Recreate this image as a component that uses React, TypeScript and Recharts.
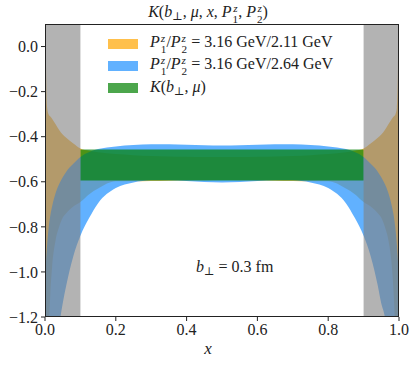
import React from 'react'
import { ComposedChart, Area, XAxis, YAxis } from 'recharts'

const FONT = '"Liberation Serif", "DejaVu Serif", serif'
const INK = '#222'

// sample positions along x, denser near the endpoints where the bands blow up
const xs = [
  0, 0.003, 0.006, 0.01, 0.015, 0.02, 0.03, 0.04, 0.05, 0.06, 0.08, 0.1, 0.125, 0.15, 0.2, 0.25, 0.3, 0.35, 0.4, 0.45, 0.5,
  0.55, 0.6, 0.65, 0.7, 0.75, 0.8, 0.85, 0.875, 0.9, 0.92, 0.94, 0.95, 0.96, 0.97, 0.98, 0.985, 0.99, 0.994, 0.997, 1,
]

// P1/P2 = 3.16 GeV / 2.11 GeV
const orangeHigh = [
  0.6, -0.1, -0.27, -0.3, -0.31, -0.32, -0.345, -0.37, -0.39, -0.405, -0.43, -0.452, -0.462, -0.469, -0.477, -0.482, -0.486, -0.488, -0.489, -0.49, -0.49,
  -0.49, -0.489, -0.488, -0.486, -0.482, -0.477, -0.469, -0.462, -0.452, -0.43, -0.405, -0.39, -0.37, -0.345, -0.32, -0.31, -0.3, -0.27, -0.1, 0.6,
]
const orangeLow = [
  -3.0, -2.0, -1.6, -1.3, -1.1, -0.98, -0.86, -0.8, -0.76, -0.74, -0.71, -0.69, -0.655, -0.63, -0.598, -0.598, -0.597, -0.595, -0.594, -0.593, -0.592,
  -0.593, -0.594, -0.595, -0.597, -0.598, -0.598, -0.63, -0.655, -0.69, -0.71, -0.74, -0.76, -0.8, -0.86, -0.98, -1.1, -1.3, -1.6, -2.0, -3.0,
]

// P1/P2 = 3.16 GeV / 2.64 GeV
const blueHigh = [
  -1.05, -0.95, -0.88, -0.81, -0.75, -0.71, -0.65, -0.61, -0.58, -0.555, -0.52, -0.49, -0.468, -0.455, -0.443, -0.437, -0.434, -0.434, -0.436, -0.438, -0.439,
  -0.438, -0.436, -0.434, -0.434, -0.437, -0.443, -0.455, -0.468, -0.49, -0.52, -0.555, -0.58, -0.61, -0.65, -0.71, -0.75, -0.81, -0.88, -0.95, -1.05,
]
const blueLow = [
  -3.5, -2.9, -2.5, -2.1, -1.8, -1.6, -1.38, -1.24, -1.14, -1.06, -0.93, -0.84, -0.76, -0.695, -0.628, -0.603, -0.593, -0.593, -0.597, -0.601, -0.603,
  -0.601, -0.597, -0.593, -0.593, -0.603, -0.628, -0.695, -0.76, -0.84, -0.93, -1.06, -1.14, -1.2, -1.33, -1.55, -1.75, -2.05, -2.45, -2.85, -3.4,
]

// K(b, mu) band, plotted over the trusted x window only
const kBand = [-0.594, -0.457]
const kRange = [0.1, 0.9]

// grey cut regions at the endpoints
const cutLeft = [0, 0.1]
const cutRight = [0.9, 1]

const xTicks = [0, 0.2, 0.4, 0.6, 0.8, 1]
const yTicks = [0, -0.2, -0.4, -0.6, -0.8, -1, -1.2]
const Y_DOMAIN = [-1.2, 0.1]

const rows = xs.map((x, i) => ({
  x,
  orange: [orangeLow[i], orangeHigh[i]],
  blue: [blueLow[i], blueHigh[i]],
  k: x >= kRange[0] && x <= kRange[1] ? kBand : null,
  cutL: x >= cutLeft[0] && x <= cutLeft[1] ? Y_DOMAIN : null,
  cutR: x >= cutRight[0] && x <= cutRight[1] ? Y_DOMAIN : null,
}))

const fmtY = (v: number) => (v < 0 ? '\u2212' : '') + Math.abs(v).toFixed(1)

function SupSub({ sup, sub }: { sup: string; sub: string }) {
  return (
    <span style={{ display: 'inline-block', verticalAlign: '-0.5em', lineHeight: 0.95, fontSize: '0.7em', marginLeft: 1 }}>
      <span style={{ display: 'block', fontStyle: 'italic' }}>{sup}</span>
      <span style={{ display: 'block' }}>{sub}</span>
    </span>
  )
}

const Pz = ({ n }: { n: string }) => (
  <>
    <i>P</i>
    <SupSub sup="z" sub={n} />
  </>
)

const Bperp = () => (
  <>
    <i>b</i>
    <span style={{ fontSize: '0.7em', verticalAlign: '-0.3em' }}>⊥</span>
  </>
)

const legendItems = [
  { color: '#ffa500', label: <><Pz n="1" />/<Pz n="2" /> = 3.16 GeV/2.11 GeV</> },
  { color: '#1e90ff', label: <><Pz n="1" />/<Pz n="2" /> = 3.16 GeV/2.64 GeV</> },
  { color: '#008000', label: <><i>K</i>(<Bperp />, <i>μ</i>)</> },
]

export default function App() {
  const tick = { fill: INK, fontSize: 16, fontFamily: FONT }
  return (
    <div style={{ position: 'absolute', left: 0, top: 0, width: 416, height: 366, fontFamily: FONT, color: INK, background: '#fff' }}>
      <ComposedChart width={416} height={366} data={rows} margin={{ top: 24, right: 17, left: 0, bottom: 0 }}>
        <XAxis
          dataKey="x"
          type="number"
          domain={[0, 1]}
          ticks={xTicks}
          tickFormatter={(v: number) => v.toFixed(1)}
          allowDataOverflow
          axisLine={false}
          tickLine={{ stroke: INK }}
          tickSize={4}
          tickMargin={3}
          tick={tick}
          height={49}
        />
        <YAxis
          type="number"
          domain={Y_DOMAIN}
          ticks={yTicks}
          tickFormatter={fmtY}
          allowDataOverflow
          axisLine={false}
          tickLine={{ stroke: INK }}
          tickSize={4}
          tickMargin={3}
          tick={tick}
          width={45}
        />
        <Area dataKey="orange" type="monotone" fill="#ffa500" fillOpacity={0.7} stroke="none" isAnimationActive={false} />
        <Area dataKey="blue" type="monotone" fill="#1e90ff" fillOpacity={0.7} stroke="none" isAnimationActive={false} />
        <Area dataKey="k" type="linear" fill="#008000" fillOpacity={0.7} stroke="none" isAnimationActive={false} />
        <Area dataKey="cutL" type="linear" fill="#808080" fillOpacity={0.6} stroke="none" isAnimationActive={false} />
        <Area dataKey="cutR" type="linear" fill="#808080" fillOpacity={0.6} stroke="none" isAnimationActive={false} />
      </ComposedChart>

      {/* axes frame */}
      <div style={{ position: 'absolute', left: 45, top: 24, width: 354, height: 293, border: `1px solid ${INK}`, boxSizing: 'border-box', pointerEvents: 'none' }} />

      <div style={{ position: 'absolute', left: 0, width: 416, top: 3, textAlign: 'center', fontSize: 16, whiteSpace: 'nowrap' }}>
        <i>K</i>(<Bperp />, <i>μ</i>, <i>x</i>, <Pz n="1" />, <Pz n="2" />)
      </div>

      <div style={{ position: 'absolute', left: 108, top: 33 }}>
        {legendItems.map((it, i) => (
          <div key={i} style={{ display: 'flex', alignItems: 'center', height: 22, fontSize: 16, whiteSpace: 'nowrap' }}>
            <span style={{ display: 'inline-block', width: 30, height: 10, background: it.color, opacity: 0.7, marginRight: 12 }} />
            <span>{it.label}</span>
          </div>
        ))}
      </div>

      <div style={{ position: 'absolute', left: 196, top: 258, fontSize: 16, whiteSpace: 'nowrap' }}>
        <Bperp /> = 0.3 fm
      </div>

      <div style={{ position: 'absolute', left: 0, width: 416, top: 339, textAlign: 'center', fontSize: 17 }}>
        <i>x</i>
      </div>
    </div>
  )
}
